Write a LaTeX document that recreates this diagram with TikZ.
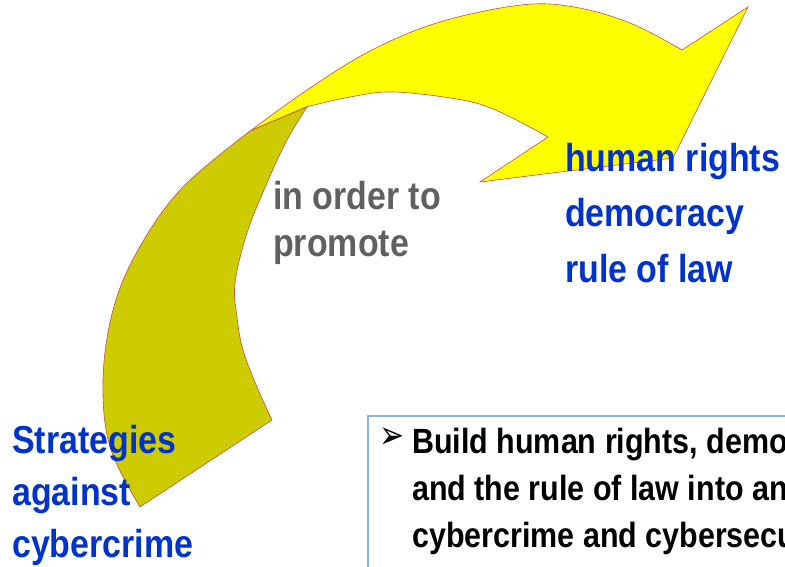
\documentclass[tikz,border=0pt]{standalone}
\usepackage{fontspec}
\newfontfamily\slidefont[FakeStretch=0.87]{Liberation Sans}
\newfontfamily\dingfont{DejaVu Sans}
\definecolor{arrowyellow}{RGB}{255, 255, 0}
\definecolor{arrowolive}{RGB}{204, 204, 0}
\definecolor{arrowedge}{RGB}{192, 80, 77}
\definecolor{keyblue}{RGB}{0, 51, 204}
\definecolor{notegray}{RGB}{96, 96, 96}
\definecolor{boxblue}{RGB}{141, 179, 226}

\begin{document}
\begin{tikzpicture}[x=1pt, y=-1pt,
  slidetext/.style={align=left, anchor=base west, inner sep=0pt},
  arrowface/.style={draw=arrowedge, line width=0.6pt}]
  \useasboundingbox (0,0) rectangle (785,567);
  \clip (0,0) rectangle (785,567);

  \filldraw[arrowface, fill=arrowyellow]
    plot[smooth, tension=0.6] coordinates {(250,131) (310,88) (372,50) (440,22) (521,5) (574,7) (630,23) (682,50)}
    -- (748,7) -- (673,158) -- (480,182) -- (548,137)
    -- plot[smooth, tension=0.6] coordinates {(548,137) (500,112) (462,100) (394,92) (350,97) (306,107)}
    -- cycle;
  \filldraw[arrowface, fill=arrowolive]
    plot[smooth, tension=0.6] coordinates {(140,507) (110,447) (103,380) (113,310) (138,250) (182,188) (250,131)}
    -- plot[smooth, tension=0.6] coordinates {(307,107) (287,140) (267,183) (247,233) (235,283) (237,317) (243,350) (257,387) (272,420)}
    -- cycle;

  \node[slidetext, text=notegray, font=\slidefont\bfseries\fontsize{39}{47}\selectfont] (promote) at (273,256) {in order to\\promote};
  \node[slidetext, text=keyblue, font=\slidefont\bfseries\fontsize{39}{55.5}\selectfont] (values) at (565,282) {human rights\\democracy\\rule of law};
  \node[slidetext, text=keyblue, font=\slidefont\bfseries\fontsize{39}{52}\selectfont] (strategies) at (12,557) {Strategies\\against\\cybercrime};

  \node[draw=boxblue, line width=1.5pt, fill=white, anchor=north west, minimum width=460pt, minimum height=220pt] (notebox) at (367,415) {};
  \node[slidetext, font=\dingfont\fontsize{30}{30}\selectfont, yscale=1.3] (bullet) at (379,448) {➢};
  \node[slidetext, font=\slidefont\bfseries\fontsize{35}{47}\selectfont] (advice) at (412,594) {Build human rights, democracy\\and the rule of law into any\\cybercrime and cybersecurity\\strategies};
\end{tikzpicture}
\end{document}
